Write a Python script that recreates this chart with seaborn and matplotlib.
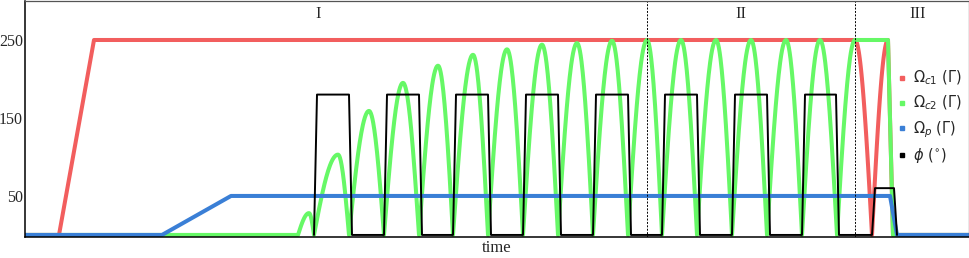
import numpy as np
import seaborn as sns
import matplotlib.pyplot as plt
from matplotlib.lines import Line2D

# time is in arbitrary units (the reference has no time ticks)
red_t = [25, 59, 94, 855]
red_v = [0, 0, 250, 250]
red_dip = [855, 872, 888]          # top, zero, top
red_off = [893, 969]

green_zero = [298, 314, 349, 384, 419, 453, 488, 523, 558, 593, 628, 662, 697, 732, 767, 802, 837]
green_peak_t = [309, 338, 369, 403, 438, 473, 507, 542, 577, 612, 647, 681, 716, 751, 786, 820, 855]
green_peak = [28, 103, 159, 195, 217, 231, 238, 244, 246, 249, 250, 250, 250, 250, 250, 250, 250]
green_hold = [888, 893, 969]

blue_t = [25, 162, 231, 890, 897, 969]
blue_v = [0, 0, 50, 50, 0, 0]

phi_on = [314, 384, 453, 523, 593, 662, 732, 802, 872]
phi_off = [352, 422, 491, 561, 631, 700, 770, 839, 897]
phi_h = [180, 180, 180, 180, 180, 180, 180, 180, 60]
phi_ramp = 3

region_x = [647, 855]
region_lab = ['I', 'II', 'III']
region_lab_x = [318, 741, 918]

colors = {'c1': '#F25E5E', 'c2': '#66F866', 'p': '#3A7FD6', 'phi': 'black'}


def half_arc(t0, t1, a, rising, n=40):
    t = np.linspace(t0, t1, n)
    if rising:
        return t, a * np.sin(np.pi / 2 * (t - t0) / (t1 - t0))
    return t, a * np.sin(np.pi / 2 * (t1 - t) / (t1 - t0))


# red
rx, ry = list(red_t), list(red_v)
for t0, t1, up in [(red_dip[0], red_dip[1], False), (red_dip[1], red_dip[2], True)]:
    t, v = half_arc(t0, t1, 250, up)
    rx += list(t); ry += list(v)
rx += red_off; ry += [0, 0]

# green
gx, gy = [25], [0]
for k in range(len(green_zero) - 1):
    t, v = half_arc(green_zero[k], green_peak_t[k], green_peak[k], True)
    gx += list(t); gy += list(v)
    t, v = half_arc(green_peak_t[k], green_zero[k + 1], green_peak[k], False)
    gx += list(t); gy += list(v)
t, v = half_arc(green_zero[-1], green_peak_t[-1], green_peak[-1], True)
gx += list(t); gy += list(v)
gx += green_hold; gy += [250, 0, 0]

# phi
px, py = [], []
for s, e, h in zip(phi_on, phi_off, phi_h):
    px += [s, s + phi_ramp, e - phi_ramp, e]
    py += [0, h, h, 0]

sns.set_theme(style='white')
plt.rcParams['font.family'] = ['DejaVu Sans']
plt.rcParams['mathtext.fontset'] = 'dejavusans'

fig = plt.figure(figsize=(9.7, 2.58), dpi=100)
ax = fig.add_axes([25 / 970, 21.5 / 258, 944 / 970, 235.5 / 258])

kw = dict(estimator=None, sort=False, ax=ax, legend=False)
sns.lineplot(x=rx, y=ry, color=colors['c1'], lw=2.9, **kw)
sns.lineplot(x=gx, y=gy, color=colors['c2'], lw=2.9, **kw)
sns.lineplot(x=blue_t, y=blue_v, color=colors['p'], lw=2.9, **kw)
sns.lineplot(x=px, y=py, color=colors['phi'], lw=1.4, **kw)

for x in region_x:
    ax.axvline(x, color='black', lw=0.7, ls=(0, (2, 1.5)))
for x, lab in zip(region_lab_x, region_lab):
    ax.text(x, 283, lab, ha='center', va='center', family='Liberation Serif', fontsize=12)

ax.set_xlim(25, 969)
ax.set_ylim(-2, 300)
ax.set_xticks([])
ax.set_yticks([50, 150, 250])
ax.tick_params(axis='y', direction='in', length=2, width=0.8, pad=1.5, labelsize=11.5)
for lab in ax.get_yticklabels():
    lab.set_family('Liberation Serif')
ax.set_xlabel('time', family='Liberation Serif', fontsize=12, labelpad=2.5)
ax.set_ylabel('')

for s in ['left', 'bottom']:
    ax.spines[s].set_color('black')
    ax.spines[s].set_linewidth(1.1)
for s in ['top', 'right']:
    ax.spines[s].set_color('#555555')
    ax.spines[s].set_linewidth(0.9)

handles = [Line2D([], [], marker='s', ls='none', color=colors[k], markersize=3)
           for k in ['c1', 'c2', 'p', 'phi']]
labels = [r'$\Omega_{c1}$ ($\Gamma$)', r'$\Omega_{c2}$ ($\Gamma$)',
          r'$\Omega_p$ ($\Gamma$)', r'$\phi$ ($^{\circ}$)']
ax.legend(handles, labels, loc='upper left', bbox_to_anchor=(898 / 970, 1 - 69 / 258),
          bbox_transform=fig.transFigure, frameon=False, fontsize=10.5,
          handlelength=0.6, handletextpad=0.4, labelspacing=0.45, borderpad=0, borderaxespad=0)

fig.savefig('out.png', dpi=100)
